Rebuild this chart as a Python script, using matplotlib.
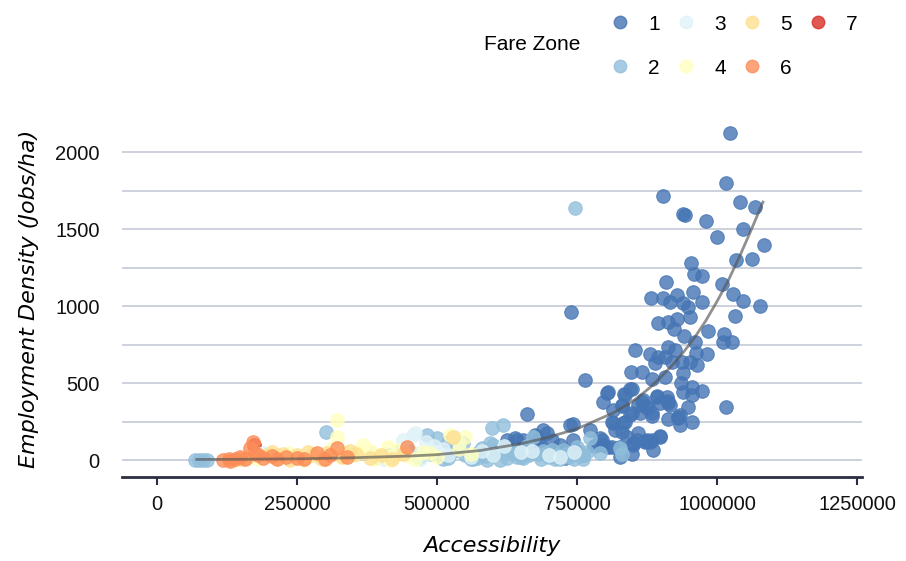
"""
Accessibility vs employment density, coloured by fare zone
"""
import matplotlib
matplotlib.use("Agg")
import matplotlib.pyplot as plt
from matplotlib.lines import Line2D

# --- data ----------------------------------------------------------------
zone1_x = [1023000, 1016000, 903600, 942900, 940000, 1041000, 1068000, 980400, 1046000, 1000000,
           1084000, 953600, 1034000, 1062000, 959000, 973000, 909000, 1009000, 957000, 882000,
           903600, 916000, 928600, 939000, 948000, 952000, 973000, 1028600, 1046000, 1077000,
           739000, 1032000, 894600, 912500, 928600, 923000, 941000, 984000, 1012000, 1027000,
           1011000, 853600, 880000, 894600, 912500, 925000, 907000, 960700, 962500, 982000,
           964000, 889000, 919600, 937500, 951800, 846400, 866000, 884000, 907000, 939000,
           764300, 935700, 955000, 973000, 939000, 955000, 844600, 835700, 805400, 796400,
           830400, 866000, 877000, 893000, 898000, 912500, 884000, 1016000, 814300, 844600,
           862500, 835700, 814300, 859000, 912500, 930000, 934000, 955000, 743000, 880000,
           898000, 871000, 867900, 858900, 875000, 883900, 892900, 910700, 912500, 916100,
           930400, 948200, 933900, 812500, 832100, 848200, 817900, 830400, 839300, 850000,
           857100, 875000, 883900, 885700, 898200, 848200, 689300, 696400, 705400, 683900,
           687500, 737500, 742900, 773200, 791000, 796400, 805400, 625000, 642900, 653600,
           675000, 680400, 728600, 723200, 660700, 696400, 794600, 785700, 812500, 826800,
           850000, 871400, 826800, 803600, 833900, 848200, 830400, 639000, 700000, 715000,
           760000, 780000, 750000, 670000, 720000]
zone1_y = [2124, 1799, 1714, 1591, 1597, 1675, 1643, 1552, 1500, 1448,
           1396, 1279, 1299, 1305, 1208, 1195, 1156, 1143, 1091, 1052,
           1052, 1026, 1071, 1019, 993, 929, 1026, 1078, 1032, 1000,
           961, 935, 890, 896, 916, 851, 805, 838, 818, 766,
           766, 714, 688, 669, 734, 714, 669, 766, 695, 688,
           617, 630, 636, 636, 636, 571, 571, 526, 539, 565,
           520, 500, 474, 448, 442, 422, 461, 422, 442, 377,
           351, 377, 344, 416, 370, 370, 305, 344, 325, 292,
           305, 247, 240, 175, 266, 279, 227, 247, 234, 117,
           156, 123, 390, 357, 338, 286, 409, 409, 383, 357,
           273, 344, 292, 247, 240, 305, 195, 182, 149, 97,
           130, 130, 130, 65, 149, 39, 195, 175, 130, 97,
           65, 227, 130, 195, 143, 97, 84, 130, 130, 130,
           162, 130, 13, 65, 299, 32, 130, 97, 84, 84,
           110, 117, 19, 435, 429, 461, 357, 143, 60, 40,
           30, 90, 60, 50, 100]

zone2_x = [68000, 75000, 82000, 90000, 301800, 482000, 500000, 520000, 546000, 558900,
           571400, 582100, 589300, 594600, 598000, 607100, 612500, 618000, 630400, 643000,
           653600, 600000, 620000, 640000, 660000, 671000, 680000, 700000, 706000, 715000,
           725000, 735000, 750000, 760000, 768000, 773000, 791000, 826800, 830000, 450000,
           470000, 490000, 510000, 530000, 550000, 565000, 575000, 585000, 605000, 625000,
           635000, 650000, 665000, 685000, 695000, 710000, 730000, 745000, 755000, 415000,
           395000, 520000, 540000, 560000, 580000, 600000, 690000, 720000, 740000, 760000,
           430000, 746400]
zone2_y = [0, 0, 2, 0, 182, 162, 143, 120, 110, 19,
           13, 45, 0, 110, 208, 65, 0, 227, 45, 19,
           13, 100, 80, 60, 90, 149, 40, 20, 65, 30,
           65, 20, 84, 10, 52, 143, 45, 78, 40, 60,
           20, 40, 10, 60, 30, 10, 50, 25, 40, 15,
           55, 20, 30, 10, 45, 10, 40, 5, 25, 30,
           20, 15, 70, 5, 80, 30, 60, 5, 30, 40,
           50, 1636]

zone3_x = [189000, 200000, 215000, 240000, 290000, 350000, 380000, 405000, 420000, 440000,
           457000, 461000, 470000, 480000, 495000, 510000, 520000, 540000, 560000, 580000,
           600000, 620000, 650000, 670000, 700000, 720000, 745000, 440000, 530000, 470000]
zone3_y = [45, 40, 30, 15, 20, 35, 50, 10, 25, 60,
           162, 175, 45, 120, 90, 70, 30, 110, 20, 60,
           35, 90, 50, 60, 30, 20, 50, 130, 150, 10]

zone4_x = [140000, 180000, 200000, 215000, 235000, 255000, 280000, 300000, 321000, 321000,
           335000, 350000, 368000, 380000, 395000, 412000, 416000, 430000, 445000, 460000,
           475000, 487000, 500000, 523000, 540000, 550000, 560000, 330000, 390000, 260000,
           310000, 360000]
zone4_y = [0, 10, 25, 5, 45, 20, 40, 15, 260, 149,
           50, 30, 97, 60, 35, 84, 0, 65, 30, 10,
           55, 45, 20, 162, 70, 149, 40, 20, 5, 0,
           70, 55]

zone5_x = [150000, 162000, 196000, 205000, 215000, 225000, 237000, 250000, 265000, 279000,
           295000, 303000, 330000, 355000, 380000, 400000, 420000, 440000, 528000, 270000,
           345000]
zone5_y = [5, 20, 35, 50, 20, 40, 0, 30, 15, 35,
           10, 45, 20, 40, 15, 30, 10, 40, 149, 55,
           60]

zone6_x = [118000, 128000, 140000, 148000, 158000, 166000, 171000, 180000, 190000, 205000,
           215000, 230000, 250000, 262000, 285000, 300000, 309000, 321000, 340000, 446000,
           130000, 175000]
zone6_y = [0, 5, 10, 19, 10, 78, 117, 30, 15, 25,
           8, 20, 12, 5, 45, 10, 32, 78, 20, 84,
           -5, 45]

zone7_x = [173000]
zone7_y = [100]

# fitted trend
fit_x = [71000, 150000, 250000, 350000, 450000, 500000, 577000, 648000, 696000, 750000,
         814000, 840000, 860000, 880000, 900000, 920000, 940000, 960000, 980000, 1000000,
         1020000, 1040000, 1060000, 1082000]
fit_y = [4, 5, 8, 15, 26, 35, 62, 105, 145, 203,
         305, 360, 410, 470, 540, 615, 700, 795, 905, 1030,
         1165, 1320, 1485, 1675]

zones = ["1", "2", "3", "4", "5", "6", "7"]
zone_colors = ["#4575b4", "#91bfdb", "#e0f3f8", "#ffffbf", "#fee090", "#fc8d59", "#d73027"]
zone_data = [(zone1_x, zone1_y), (zone2_x, zone2_y), (zone3_x, zone3_y), (zone4_x, zone4_y),
             (zone5_x, zone5_y), (zone6_x, zone6_y), (zone7_x, zone7_y)]

xticks = [0, 250000, 500000, 750000, 1000000, 1250000]
yticks = [0, 500, 1000, 1500, 2000]
grid_lines = [0, 250, 500, 750, 1000, 1250, 1500, 1750, 2000]

# --- plot ------------------------------------------------------------------
tick_font = ["Liberation Sans", "DejaVu Sans"]
axis_col = "#2b2d42"

fig = plt.figure(figsize=(9.06, 5.61), dpi=100)
ax = fig.add_axes([122 / 906, 1 - 477 / 561, 740 / 906, 357 / 561])

for g in grid_lines:
    ax.axhline(g, color="#c5cad6", linewidth=1.2, zorder=0)

# draw zone 7 first so it sits under the orange points
order = [6, 0, 1, 2, 3, 4, 5]
for i in order:
    xs, ys = zone_data[i]
    ax.scatter(xs, ys, s=95, color=zone_colors[i], alpha=0.8,
               edgecolors=zone_colors[i], linewidths=0.8, zorder=2)

ax.plot(fit_x, fit_y, color="#555555", alpha=0.65, linewidth=2, zorder=3)

ax.set_xlim(-62500, 1258900)
ax.set_ylim(-110, 2208)

for side in ["top", "right", "left"]:
    ax.spines[side].set_visible(False)
ax.spines["bottom"].set_color(axis_col)
ax.spines["bottom"].set_linewidth(2)

ax.set_xticks(xticks)
ax.set_xticklabels([str(t) for t in xticks], fontfamily=tick_font, fontsize=14.5)
ax.set_yticks(yticks)
ax.set_yticklabels([str(t) for t in yticks], fontfamily=tick_font, fontsize=14.5)
ax.tick_params(axis="x", length=6, width=1.5, color=axis_col, pad=7, labelcolor="#111111")
ax.tick_params(axis="y", length=0, pad=16, labelcolor="#111111")

ax.set_xlabel("Accessibility", fontsize=16, fontstyle="italic", labelpad=16)
ax.set_ylabel("Employment Density (Jobs/ha)", fontsize=16, fontstyle="italic", labelpad=12)

# legend
handles = [Line2D([], [], linestyle="none", marker="o", markersize=9,
                  markerfacecolor=c, markeredgecolor=c, alpha=0.8) for c in zone_colors]
leg = fig.legend(handles, zones, ncol=4, loc="upper left",
                 bbox_to_anchor=(589 / 906, 1 + 4 / 561),
                 frameon=False, prop={"family": tick_font, "size": 15},
                 handletextpad=0.75, columnspacing=0.65, labelspacing=1.2, handlelength=1.2)
fig.text(484 / 906, 1 - 45 / 561, "Fare Zone", fontfamily=tick_font, fontsize=15,
         va="center", ha="left")

fig.savefig("out.png", dpi=100)
